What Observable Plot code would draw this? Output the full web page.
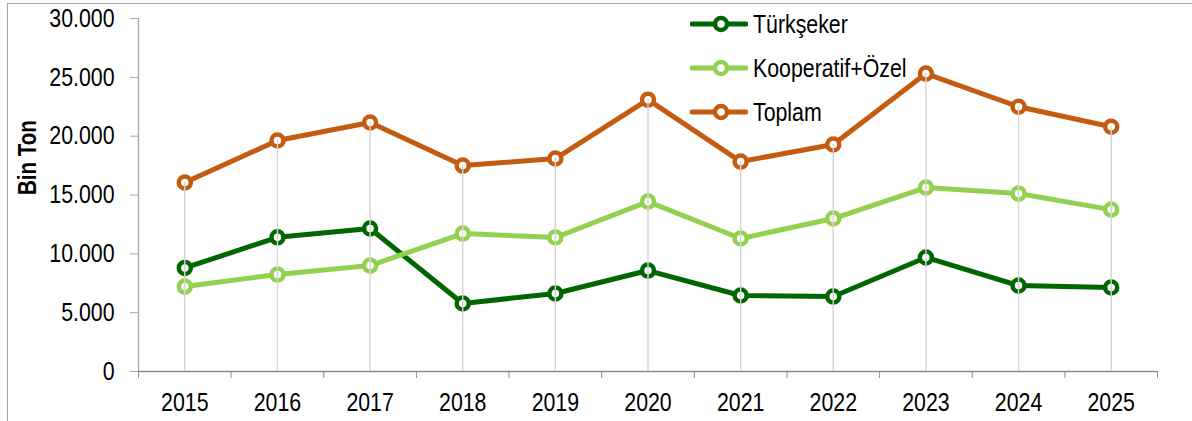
<!DOCTYPE html>
<html>
<head>
<meta charset="utf-8">
<script src="https://cdn.jsdelivr.net/npm/d3@7"></script>
<script src="https://cdn.jsdelivr.net/npm/@observablehq/plot@0.6"></script>
<style>
  html, body { margin: 0; padding: 0; background: #fff; }
  #wrap { position: relative; width: 1192px; height: 421px; overflow: hidden; font-family: "Liberation Sans", Arial, sans-serif; }
  #frame { position: absolute; left: 7px; top: 3px; width: 1200px; height: 430px; border-top: 1px solid #a6a6a6; border-left: 1px solid #a6a6a6; pointer-events: none; }
  #legend { position: absolute; left: 690px; top: 0; }
  .row { position: absolute; left: 0; height: 30px; display: flex; align-items: center; white-space: nowrap; font-size: 26px; color: #000; }
  .row svg { margin-right: 5px; flex: none; }
  .row span { display: inline-block; transform: scaleX(0.82); transform-origin: left center; }
</style>
</head>
<body>
<div id="wrap"><div id="chart"></div><div id="legend"></div><div id="frame"></div></div>
<script>
const years = [2015, 2016, 2017, 2018, 2019, 2020, 2021, 2022, 2023, 2024, 2025];
const turkseker = [8800, 11400, 12150, 5780, 6630, 8580, 6460, 6370, 9690, 7310, 7140];
const kooperatif = [7220, 8240, 9000, 11720, 11390, 14440, 11300, 13000, 15630, 15120, 13760];
const toplam = [16060, 19630, 21160, 17500, 18100, 23100, 17840, 19290, 25320, 22500, 20800];
const seriesNames = ["Türkşeker", "Kooperatif+Özel", "Toplam"];
const seriesColors = ["#006600", "#92D050", "#C55A11"];
const yTicks = [0, 5000, 10000, 15000, 20000, 25000, 30000];
const yLabel = "Bin Ton";

const seriesValues = [turkseker, kooperatif, toplam];
const rows = [];
seriesValues.forEach((vals, si) => vals.forEach((v, i) => rows.push({year: years[i], value: v, series: seriesNames[si]})));
const tops = years.map((y, i) => ({year: y, top: toplam[i]}));
const bounds = [years[0] - 0.5, ...years.map(y => y + 0.5)];
const fmt = d => d3.format(",")(d).replace(/,/g, ".");

const chart = Plot.plot({
  width: 1192,
  height: 421,
  marginLeft: 138,
  marginRight: 35,
  marginTop: 18,
  marginBottom: 50,
  style: {fontFamily: "'Liberation Sans', Arial, sans-serif", fontSize: "26px", background: "transparent", overflow: "visible"},
  x: {domain: [years[0] - 0.5, years[years.length - 1] + 0.5]},
  y: {domain: [0, 30000]},
  color: {domain: seriesNames, range: seriesColors},
  marks: [
    Plot.ruleY([0], {stroke: "#8c8c8c", strokeWidth: 1.3}),
    Plot.ruleX([bounds[0]], {stroke: "#a6a6a6", strokeWidth: 1.3}),
    Plot.axisY(yTicks, {tickSize: 8, tickPadding: 16, tickFormat: fmt, stroke: "#a6a6a6", fill: "#000", label: null, fontSize: 26}),
    Plot.axisX(bounds, {tickSize: 7, tickFormat: () => "", stroke: "#8c8c8c", label: null}),
    Plot.axisX(years, {tickSize: 0, tickPadding: 21, tickFormat: d => String(d), fill: "#000", label: null, fontSize: 26}),
    Plot.text([yLabel], {frameAnchor: "left", dx: -111, rotate: -90, fontWeight: "bold", fontSize: 25, fill: "#000"}),
    Plot.line(rows, {x: "year", y: "value", z: "series", stroke: "series", strokeWidth: 5, curve: "linear"}),
    Plot.dot(rows, {x: "year", y: "value", stroke: "series", fill: "white", r: 6, strokeWidth: 4.5}),
    Plot.ruleX(tops, {x: "year", y1: 0, y2: "top", stroke: "#d4d4d4", strokeWidth: 1.4})
  ]
});
document.getElementById("chart").appendChild(chart);

// narrow the glyphs to mimic a condensed face
chart.querySelectorAll("text").forEach(t => {
  const len = t.getComputedTextLength();
  if (len > 0) {
    t.setAttribute("textLength", (len * 0.82).toFixed(2));
    t.setAttribute("lengthAdjust", "spacingAndGlyphs");
  }
});

const legend = document.getElementById("legend");
seriesNames.forEach((name, i) => {
  const row = document.createElement("div");
  row.className = "row";
  row.style.top = (24 + 44 * i - 15) + "px";
  row.innerHTML = `<svg width="58" height="20"><line x1="2" y1="10" x2="56" y2="10" stroke="${seriesColors[i]}" stroke-width="5" stroke-linecap="round"/><circle cx="31" cy="10" r="6" fill="white" stroke="${seriesColors[i]}" stroke-width="4.5"/></svg><span>${name}</span>`;
  legend.appendChild(row);
});
</script>
</body>
</html>
